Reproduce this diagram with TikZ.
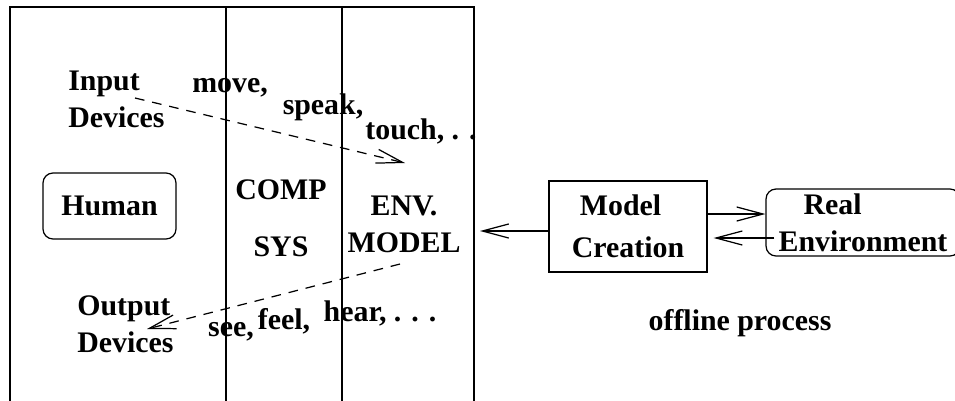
\documentclass[tikz,border=0pt]{standalone}
\usepackage{fontspec}
\setmainfont{Liberation Serif}
\usetikzlibrary{arrows.meta}
\tikzset{
    mybox/.style = {rectangle, draw=black, line width=0.7pt, align=left, inner sep=0pt},
    myrbox/.style = {mybox, rounded corners=0.2cm},
    mytext/.style = {align=left, inner sep=0pt},
    edgea/.style = {-{Straight Barb[length=15pt,width=8pt]}, line width=0.7pt},
    edged/.style = {edgea, dash pattern=on 5.5pt off 4.5pt}, % dashed flow
    every node/.style={font=\bfseries\fontsize{17}{21}\selectfont}
}
\begin{document}
\begin{tikzpicture}[x=0.02cm,y=-0.02cm]
\useasboundingbox (0,0) rectangle (955,400);
\clip (0,0) rectangle (955,400);
%
% frame with three columns
\coordinate (fnw) at (10,7);
\coordinate (fne) at (474,7);
\draw[line width=0.7pt] (10,410) -- (fnw) -- (fne) -- (474,410);
\draw[line width=0.7pt] (226,7) -- (226,410);
\draw[line width=0.7pt] (342,7) -- (342,410);
%
\node[myrbox, minimum width=2.66cm, minimum height=1.32cm] at (109.5,206) (human) {Human};
\node[mytext, anchor=west] at (68,99) (input) {Input\\Devices};
\node[mytext, anchor=west] at (77,324) (output) {Output\\Devices};
\node[mytext] at (281,190) (comp) {COMP};
\node[mytext] at (281,247) (sys) {SYS};
\node[mytext, align=center] at (404,224) (envm) {ENV.\\MODEL};
%
\node[mytext] at (230,88) (move) {move,};
\node[mytext] at (323,107) (speak) {speak,};
\node[mytext] at (421,131) (touch) {touch, . .};
\node[mytext] at (231,332) (see) {see,};
\node[mytext] at (284,321) (feel) {feel,};
\node[mytext] at (380,313) (hear) {hear, . . .};
%
\node[mybox, minimum width=3.16cm, minimum height=1.82cm] at (628,226.5) (mc) {\hspace{0.16cm}Model\\[3pt]Creation};
\node[myrbox, minimum width=3.88cm, minimum height=1.34cm] at (863,222.5) (realenv) {\hspace{0.5cm}Real\\Environment};
\node[mytext] at (740,323) (offline) {offline process};
%
\coordinate (inS) at (135,98);
\coordinate (inE) at (405,163);
\coordinate (outS) at (400,264);
\coordinate (outE) at (147,329);
\coordinate (hi) at (0,214);
\coordinate (lo) at (0,238);
\coordinate (fin) at (474,231);
%
\draw[edged] (inS) -- (inE);
\draw[edged] (outS) -- (outE);
\draw[edgea, shorten >=0.12cm] (mc.west |- fin) -- (fin);
\draw[edgea] (mc.east |- hi) -- (realenv.west |- hi);
\draw[edgea, shorten <=-0.18cm, shorten >=0.12cm] (realenv.west |- lo) -- (mc.east |- lo);

\end{tikzpicture}
\end{document}
